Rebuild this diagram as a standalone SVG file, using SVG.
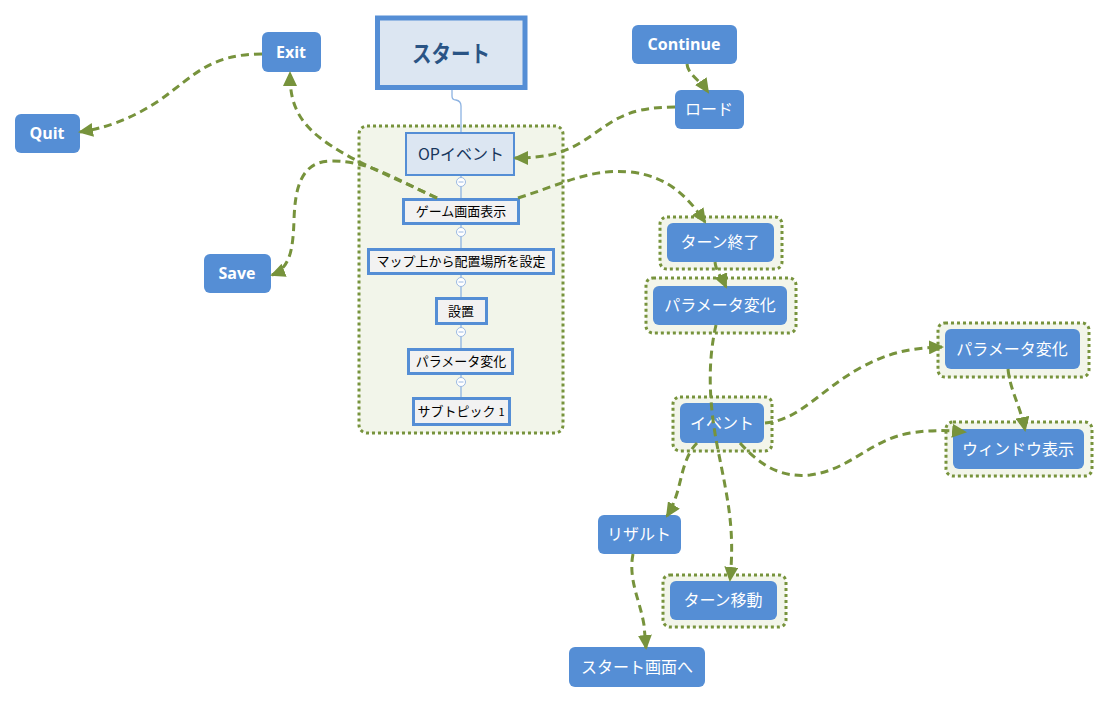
<svg xmlns="http://www.w3.org/2000/svg" width="1110" height="703" viewBox="0 0 1110 703">
<defs>
<marker id="ah" markerUnits="userSpaceOnUse" markerWidth="16" markerHeight="14" refX="13" refY="7" orient="auto">
<path d="M0,0 L15,7 L0,14 z" fill="#77933c"/>
</marker>
<style>
.grp{fill:#f2f5ea;stroke:#77933c;stroke-width:3;stroke-dasharray:3 3}
.bn{fill:#558ed5}
.bt{fill:#fff;font-family:"Noto Sans CJK JP","Noto Sans",sans-serif;font-size:16px;text-anchor:middle}
.et{fill:#fff;font-family:"Open Sans","Liberation Sans",sans-serif;font-size:16px;font-weight:bold;text-anchor:middle}
.tn{fill:#f2f2f2;stroke:#558ed5;stroke-width:3}
.tt{fill:#000;font-family:"Noto Sans CJK JP",sans-serif;font-size:13px;text-anchor:middle}
.cn path{fill:none;stroke:#77933c;stroke-width:3;stroke-dasharray:8 5;marker-end:url(#ah)}
.tl{fill:none;stroke:#8db3e2;stroke-width:1.3}
.kn{fill:#fff;stroke:#9bb9e3;stroke-width:1}
</style>
</defs>
<rect width="1110" height="703" fill="#fff"/>

<g id="root">
<rect x="377.5" y="18" width="147.5" height="69.5" fill="#dce6f2" stroke="#558ed5" stroke-width="5"/>
<text x="451" y="62" fill="#2a5485" font-family="Noto Sans CJK JP,sans-serif" font-size="23" font-weight="bold" text-anchor="middle" textLength="78" lengthAdjust="spacingAndGlyphs">スタート</text>
</g>

<g id="tree">
<rect class="grp" x="359" y="126" width="204" height="307" rx="8"/>
<path class="tl" d="M452,90 V96 Q452,100 456,100 Q461,101 461,106 V412"/>
<g id="n-op">
<rect x="406" y="133" width="108" height="42" fill="#dce6f2" stroke="#558ed5" stroke-width="2"/>
<text x="461" y="160" fill="#17365d" font-family="Noto Sans CJK JP,sans-serif" font-size="16" text-anchor="middle">OPイベント</text>
</g>
<g id="n-game">
<rect class="tn" x="403.5" y="199.5" width="115" height="24"/>
<text class="tt" x="461" y="216">ゲーム画面表示</text>
</g>
<g id="n-map">
<rect class="tn" x="368.5" y="249.5" width="185" height="24"/>
<text class="tt" x="461" y="266">マップ上から配置場所を設定</text>
</g>
<g id="n-set">
<rect class="tn" x="436.5" y="298.5" width="50" height="25"/>
<text class="tt" x="461" y="316">設置</text>
</g>
<g id="n-param1">
<rect class="tn" x="408.5" y="349.5" width="104" height="24"/>
<text class="tt" x="461" y="366">パラメータ変化</text>
</g>
<g id="n-sub">
<rect class="tn" x="413.5" y="398.5" width="96" height="26"/>
<text class="tt" x="461" y="416">サブトピック <tspan font-size="11">1</tspan></text>
</g>
<g id="knobs">
<circle class="kn" cx="461" cy="182" r="4.5"/><path d="M458.5,182 H463.5" stroke="#9bb9e3"/>
<circle class="kn" cx="461" cy="232" r="4.5"/><path d="M458.5,232 H463.5" stroke="#9bb9e3"/>
<circle class="kn" cx="461" cy="282" r="4.5"/><path d="M458.5,282 H463.5" stroke="#9bb9e3"/>
<circle class="kn" cx="461" cy="332" r="4.5"/><path d="M458.5,332 H463.5" stroke="#9bb9e3"/>
<circle class="kn" cx="461" cy="382" r="4.5"/><path d="M458.5,382 H463.5" stroke="#9bb9e3"/>
</g>
</g>

<g id="n-exit"><rect class="bn" x="262" y="32" width="59" height="40" rx="6"/><text class="et" x="291" y="58">Exit</text></g>
<g id="n-quit"><rect class="bn" x="15" y="114" width="65" height="39" rx="6"/><text class="et" x="47" y="139">Quit</text></g>
<g id="n-save"><rect class="bn" x="204" y="254" width="67" height="39" rx="6"/><text class="et" x="237" y="279">Save</text></g>
<g id="n-continue"><rect class="bn" x="632" y="25" width="105" height="39" rx="6"/><text class="et" x="684" y="50">Continue</text></g>
<g id="n-load"><rect class="bn" x="675" y="90" width="69" height="39" rx="6"/><text class="bt" x="709" y="115">ロード</text></g>

<g id="n-turnend">
<rect class="grp" x="660" y="217" width="122" height="52" rx="7"/>
<rect class="bn" x="667" y="223" width="107" height="39" rx="6"/><text class="bt" x="720" y="248">ターン終了</text>
</g>
<g id="n-param2">
<rect class="grp" x="646" y="278" width="150" height="55" rx="7"/>
<rect class="bn" x="653" y="286" width="134" height="39" rx="6"/><text class="bt" x="720" y="311">パラメータ変化</text>
</g>
<g id="n-event">
<rect class="grp" x="673" y="397" width="99" height="54" rx="7"/>
<rect class="bn" x="680" y="403" width="84" height="40" rx="6"/><text class="bt" x="722" y="429">イベント</text>
</g>
<g id="n-param3">
<rect class="grp" x="938" y="323" width="151" height="54" rx="7"/>
<rect class="bn" x="945" y="329" width="135" height="40" rx="6"/><text class="bt" x="1012" y="355">パラメータ変化</text>
</g>
<g id="n-window">
<rect class="grp" x="946" y="422" width="146" height="54" rx="7"/>
<rect class="bn" x="953" y="429" width="131" height="40" rx="6"/><text class="bt" x="1018" y="455">ウィンドウ表示</text>
</g>
<g id="n-result"><rect class="bn" x="598" y="515" width="83" height="39" rx="6"/><text class="bt" x="639" y="540">リザルト</text></g>
<g id="n-turnmove">
<rect class="grp" x="663" y="575" width="123" height="52" rx="7"/>
<rect class="bn" x="670" y="581" width="107" height="39" rx="6"/><text class="bt" x="723" y="606">ターン移動</text>
</g>
<g id="n-startscreen"><rect class="bn" x="569" y="647" width="136" height="40" rx="6"/><text class="bt" x="637" y="673">スタート画面へ</text></g>

<g id="connectors" class="cn">
<path d="M262,54 C210,54 195,75 160,100 C130,120 105,128 80,132"/>
<path d="M437,198 C400,180 360,165 330,145 C295,122 290,100 290,73"/>
<path d="M437,198 C400,182 370,160 330,161 C300,162 295,190 294,220 C293,250 290,268 272,275"/>
<path d="M687,64 C688,75 700,80 708,92"/>
<path d="M675,107 C620,107 610,125 580,143 C560,155 540,158 515,158"/>
<path d="M518,198 C560,185 590,168 630,172 C670,176 690,200 705,222"/>
<path d="M715,262 C716,272 722,278 726,287"/>
<path d="M716,325 C708,360 708,400 718,450 C728,500 735,530 730,580"/>
<path d="M697,443 C685,455 682,475 678,490 C675,500 672,508 667,516"/>
<path d="M765,423 C800,420 820,390 860,368 C890,352 910,348 942,347"/>
<path d="M740,443 C760,465 780,478 810,475 C850,470 870,440 910,433 C930,430 945,430 965,432"/>
<path d="M1008,369 C1010,390 1020,405 1025,430"/>
<path d="M633,554 C628,580 640,600 644,625 L646,648"/>
</g>
</svg>
